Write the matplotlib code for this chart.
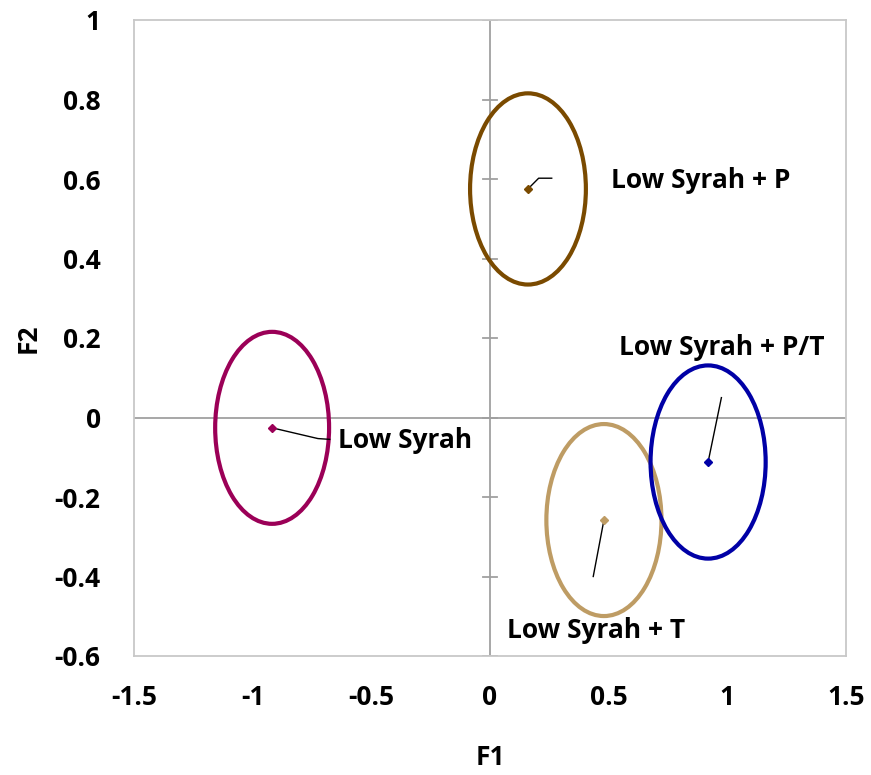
import matplotlib
matplotlib.use("Agg")
import matplotlib.pyplot as plt
from matplotlib.patches import Ellipse

plt.rcParams["font.family"] = ["Open Sans", "DejaVu Sans"]
plt.rcParams["font.weight"] = "bold"

# group centroids (F1, F2) and confidence ellipse sizes
groups = ["Low Syrah", "Low Syrah + P", "Low Syrah + T", "Low Syrah + P/T"]
f1 = [-0.918, 0.160, 0.480, 0.919]
f2 = [-0.026, 0.575, -0.258, -0.112]
ell_w = [0.480, 0.488, 0.485, 0.485]
ell_h = [0.483, 0.481, 0.483, 0.486]
colors = ["#9B0057", "#7A4A00", "#BE9C64", "#0000A6"]

# label anchor and leader line bend/end points
label_x = [-0.64, 0.51, 0.445, 0.975]
label_y = [-0.058, 0.597, -0.535, 0.175]
label_ha = ["left", "left", "center", "center"]
leader_mid_x = [-0.725, 0.205, 0.435, 0.975]
leader_mid_y = [-0.053, 0.602, -0.400, 0.050]
leader_end_x = [-0.675, 0.260, 0.435, 0.975]
leader_end_y = [-0.055, 0.602, -0.400, 0.050]

xticks = [-1.5, -1, -0.5, 0, 0.5, 1, 1.5]
yticks = [-0.6, -0.4, -0.2, 0, 0.2, 0.4, 0.6, 0.8, 1]

FS = 19

fig = plt.figure(figsize=(8.71, 7.75), dpi=100)
ax = fig.add_axes([134 / 871, 119 / 775, 712 / 871, 636 / 775])
ax.set_xlim(-1.5, 1.5)
ax.set_ylim(-0.6, 1.0)

for sp in ax.spines.values():
    sp.set_color("#C8C8C8")
    sp.set_linewidth(1.3)

ax.set_xticks(xticks)
ax.set_xticklabels([f"{t:g}" for t in xticks])
ax.set_yticks(yticks)
ax.set_yticklabels([f"{t:g}" for t in yticks])
ax.tick_params(length=0, labelsize=FS, pad=24)
ax.tick_params(axis="x", pad=20)
for lab in ax.get_xticklabels() + ax.get_yticklabels():
    lab.set_fontweight("bold")

# axes crossing at origin
ax.axhline(0, color="#A0A0A0", lw=1.3, zorder=1)
ax.axvline(0, color="#A0A0A0", lw=1.3, zorder=1)
tick_half = 0.028
for t in yticks:
    ax.plot([-tick_half, tick_half], [t, t], color="#A0A0A0", lw=1.3, zorder=1)

for i, g in enumerate(groups):
    ax.add_patch(Ellipse((f1[i], f2[i]), ell_w[i], ell_h[i], fill=False,
                         edgecolor=colors[i], lw=3.0, zorder=3))
    ax.plot(f1[i], f2[i], marker="D", ms=4.5, color=colors[i], zorder=5)
    ax.plot([f1[i], leader_mid_x[i], leader_end_x[i]],
            [f2[i], leader_mid_y[i], leader_end_y[i]],
            color="black", lw=1.0, zorder=4)
    ax.text(label_x[i], label_y[i], g, ha=label_ha[i], va="center",
            fontsize=FS, fontweight="bold", zorder=6)

ax.set_xlabel("F1", fontsize=FS, fontweight="bold", va="center")
ax.set_ylabel("F2", fontsize=FS, fontweight="bold", va="center")
ax.xaxis.set_label_coords(0.5, -0.160)
ax.yaxis.set_label_coords(-0.149, 0.5)

fig.savefig("out.png", dpi=100)
